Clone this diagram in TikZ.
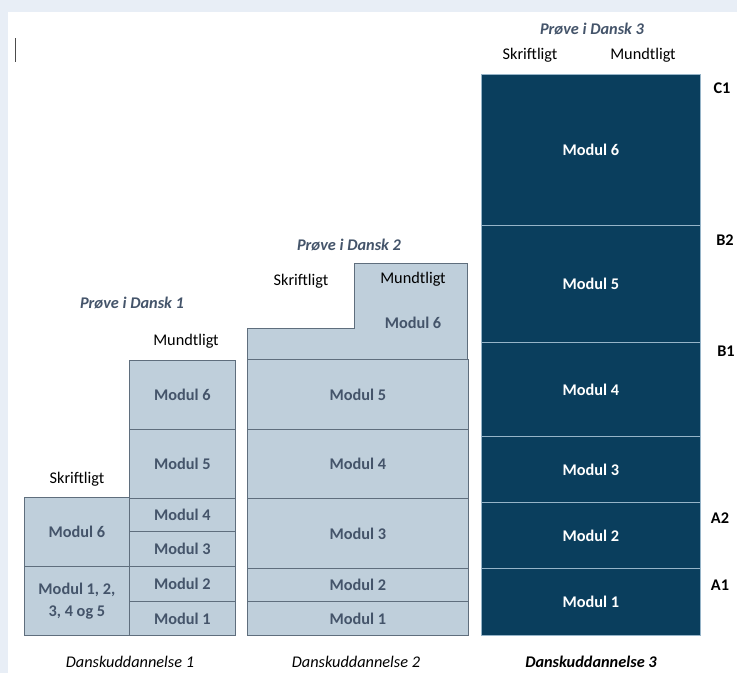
\documentclass[tikz,border=0pt]{standalone}
\usepackage{fontspec}
\setmainfont{Carlito}
\definecolor{bagfarve}{RGB}{232,238,246}
\definecolor{lysblaa}{RGB}{191,207,219}
\definecolor{kant}{RGB}{95,110,125}
\definecolor{skrift}{RGB}{68,84,106}
\definecolor{moerkblaa}{RGB}{10,62,93}
\definecolor{streg}{RGB}{150,180,200}
\begin{document}
\fontsize{16.3}{20}\selectfont
\begin{tikzpicture}[x=1pt,y=-1pt,line width=0.8pt,
    lys/.style={draw=kant,fill=lysblaa,text=skrift,font=\bfseries,inner sep=0pt,anchor=north west},
    moerk/.style={draw=streg,fill=moerkblaa,text=white,font=\bfseries,inner sep=0pt,anchor=north west},
    proeve/.style={text=skrift,font=\bfseries\itshape,inner sep=0pt},
    niveau/.style={font=\bfseries,inner sep=0pt},
    tekst/.style={inner sep=0pt}]
    \useasboundingbox (0,0) rectangle (737,673);
    \fill[bagfarve] (0,0) rectangle (737,673);
    \fill[white] (8,12) rectangle (737,673);
    \draw[gray!60!black,line width=1pt] (15,38) -- (15,62);
    % Danskuddannelse 1
    \node[lys,minimum width=105pt,minimum height=69pt] (d1s6) at (24,497) {Modul 6};
    \node[lys,minimum width=105pt,minimum height=69pt,align=center,font=\bfseries\linespread{1.1}\selectfont] (d1s1) at (24,566) {Modul 1, 2,\\3, 4 og 5};
    \node[lys,minimum width=106pt,minimum height=69pt] (d1m6) at (129,360) {Modul 6};
    \node[lys,minimum width=106pt,minimum height=69pt] (d1m5) at (129,429) {Modul 5};
    \node[lys,minimum width=106pt,minimum height=33pt] (d1m4) at (129,498) {Modul 4};
    \node[lys,minimum width=106pt,minimum height=35pt] (d1m3) at (129,531) {Modul 3};
    \node[lys,minimum width=106pt,minimum height=35pt] (d1m2) at (129,566) {Modul 2};
    \node[lys,minimum width=106pt,minimum height=34pt] (d1m1) at (129,601) {Modul 1};
    \node[tekst] (d1mu) at (186,341) {Mundtligt};
    \node[tekst] (d1sk) at (77,479) {Skriftligt};
    \node[proeve] (p1) at (132,303) {Prøve i Dansk 1};
    \node[tekst,font=\itshape] (du1) at (130,662) {Danskuddannelse 1};
    % Danskuddannelse 2
    \draw[draw=kant,fill=lysblaa] (247,328) -- (354,328) -- (354,263) -- (467,263) -- (467,359) -- (247,359) -- cycle;
    \node[tekst] (d2sk) at (301,281) {Skriftligt};
    \node[tekst] (d2mu) at (413,279) {Mundtligt};
    \node[tekst,text=skrift,font=\bfseries] (d2m6) at (413,323) {Modul 6};
    \node[lys,minimum width=221pt,minimum height=70pt] (d2m5) at (247,359) {Modul 5};
    \node[lys,minimum width=221pt,minimum height=69pt] (d2m4) at (247,429) {Modul 4};
    \node[lys,minimum width=221pt,minimum height=70pt] (d2m3) at (247,498) {Modul 3};
    \node[lys,minimum width=221pt,minimum height=33pt] (d2m2) at (247,568) {Modul 2};
    \node[lys,minimum width=221pt,minimum height=34pt] (d2m1) at (247,601) {Modul 1};
    \node[proeve] (p2) at (349,245) {Prøve i Dansk 2};
    \node[tekst,font=\itshape] (du2) at (356,662) {Danskuddannelse 2};
    % Danskuddannelse 3
    \foreach \n/\y/\h in {6/74/151,5/225/117,4/342/94,3/436/66,2/502/66,1/568/67}
        \node[moerk,minimum width=219pt,minimum height=\h pt] (d3m\n) at (481,\y) {Modul \n};
    \node[proeve] (p3) at (592,29) {Prøve i Dansk 3};
    \node[tekst] (d3sk) at (530,55) {Skriftligt};
    \node[tekst] (d3mu) at (643,55) {Mundtligt};
    \node[tekst,font=\bfseries\itshape] (du3) at (591,662) {Danskuddannelse 3};
    \node[niveau] (c1) at (722,88) {C1};
    \node[niveau] (b2) at (725,240) {B2};
    \node[niveau] (b1) at (726,351) {B1};
    \node[niveau] (a2) at (720,518) {A2};
    \node[niveau] (a1) at (720,585) {A1};
\end{tikzpicture}
\end{document}
